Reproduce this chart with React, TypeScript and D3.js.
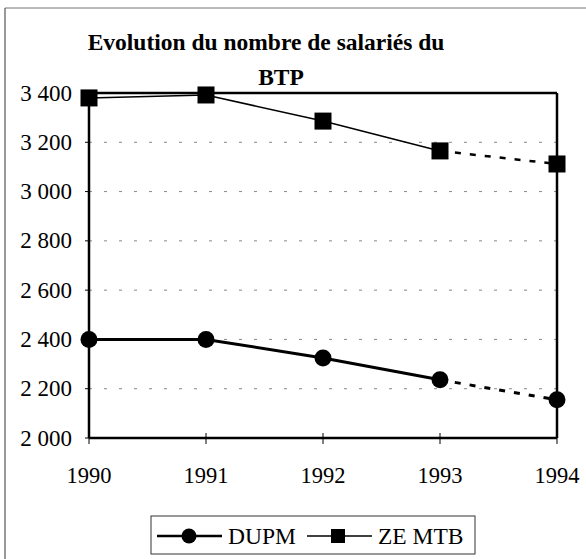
import React from "react";
import * as d3 from "d3";

const years = [1990, 1991, 1992, 1993, 1994];
const dupm = [2400, 2400, 2325, 2236, 2155];
const zeMtb = [3380, 3392, 3286, 3165, 3112];
const yTicks = [2000, 2200, 2400, 2600, 2800, 3000, 3200, 3400];
const titleLines = ["Evolution du nombre de salariés du", "BTP"];
const seriesNames = ["DUPM", "ZE MTB"];

const W = 586;
const H = 559;
const FONT = "Liberation Serif";

const fmt = (v: number) => {
  const s = String(v);
  return s.length > 3 ? s.slice(0, s.length - 3) + "\u00a0" + s.slice(-3) : s;
};

type TProps = { x: number; y: number; size: number; anchor?: string; bold?: boolean; children: React.ReactNode };
function T({ x, y, size, anchor = "start", bold = false, children }: TProps) {
  return (
    <text
      x={x}
      y={y}
      textAnchor={anchor}
      fontFamily={FONT}
      fontSize={size}
      fontWeight={bold ? "bold" : "normal"}
      fill="#000"
      style={{ fontFamily: `"${FONT}"` }}
    >
      {children}
    </text>
  );
}

export default function App() {
  const x = d3.scaleLinear().domain([1990, 1994]).range([89, 557]);
  const y = d3.scaleLinear().domain([2000, 3400]).range([438, 93]);
  const line = d3.line<[number, number]>().x((d) => x(d[0])).y((d) => y(d[1]));

  const solidPart = (vals: number[]) =>
    line(years.slice(0, 4).map((yr, i) => [yr, vals[i]] as [number, number])) || "";
  const dashPart = (vals: number[]) =>
    line(years.slice(3).map((yr, i) => [yr, vals[i + 3]] as [number, number])) || "";

  const x0 = x(1990), x1 = x(1994), yTop = y(3400), yBot = y(2000);

  return (
    <svg width={W} height={H} style={{ position: "absolute", left: 0, top: 0, fontFamily: `"${FONT}"` }}>
      <rect x={0} y={0} width={W} height={H} fill="#fff" />
      {/* outer frame */}
      <line x1={5} y1={8} x2={W} y2={8} stroke="#777" strokeWidth={1} />
      <line x1={5} y1={8} x2={5} y2={H} stroke="#555" strokeWidth={1.2} />

      {/* title */}
      <T x={266} y={50} size={23.5} anchor="middle" bold>{titleLines[0]}</T>
      <T x={281} y={85} size={23.5} anchor="middle" bold>{titleLines[1]}</T>

      {/* gridlines */}
      {yTicks.filter((t) => t > 2000 && t < 3400).map((t) => (
        <line key={"g" + t} x1={x0} x2={x1} y1={y(t)} y2={y(t)} stroke="#888" strokeWidth={1} strokeDasharray="3,12" />
      ))}

      {/* plot frame */}
      <line x1={x0} x2={x1} y1={yTop} y2={yTop} stroke="#000" strokeWidth={2.5} />
      <line x1={x1} x2={x1} y1={yTop} y2={yBot} stroke="#000" strokeWidth={2.5} />
      <line x1={x0} x2={x1} y1={yBot} y2={yBot} stroke="#000" strokeWidth={2.5} />
      <line x1={x0} x2={x0} y1={yTop} y2={yBot} stroke="#000" strokeWidth={2.5} />

      {/* y ticks & labels */}
      {yTicks.map((t) => (
        <g key={"y" + t}>
          <line x1={x0 - 4} x2={x0} y1={y(t)} y2={y(t)} stroke="#000" strokeWidth={1} />
          <T x={72} y={y(t) + 7.5} size={23} anchor="end">{fmt(t)}</T>
        </g>
      ))}

      {/* x ticks & labels */}
      {years.map((yr) => (
        <g key={"x" + yr}>
          <line x1={x(yr)} x2={x(yr)} y1={yBot - 5} y2={yBot + 6} stroke="#000" strokeWidth={1} />
          <T x={x(yr)} y={483} size={22.5} anchor="middle">{yr}</T>
        </g>
      ))}

      {/* ZE MTB series */}
      <path d={solidPart(zeMtb)} fill="none" stroke="#000" strokeWidth={1.5} />
      <path d={dashPart(zeMtb)} fill="none" stroke="#000" strokeWidth={2.5} strokeDasharray="6,9" />
      {years.map((yr, i) => (
        <rect key={"s" + yr} x={x(yr) - 8.5} y={y(zeMtb[i]) - 8.5} width={17} height={17} fill="#000" />
      ))}

      {/* DUPM series */}
      <path d={solidPart(dupm)} fill="none" stroke="#000" strokeWidth={3} />
      <path d={dashPart(dupm)} fill="none" stroke="#000" strokeWidth={3} strokeDasharray="6,9" />
      {years.map((yr, i) => (
        <circle key={"c" + yr} cx={x(yr)} cy={y(dupm[i])} r={8.5} fill="#000" />
      ))}

      {/* legend */}
      <rect x={151} y={516} width={324} height={38} fill="#fff" stroke="#333" strokeWidth={1} />
      <line x1={157} x2={222} y1={536} y2={536} stroke="#000" strokeWidth={2.5} />
      <circle cx={189} cy={536} r={7.5} fill="#000" />
      <T x={228} y={544} size={23.5}>{seriesNames[0]}</T>
      <line x1={307} x2={372} y1={536} y2={536} stroke="#000" strokeWidth={1.5} />
      <rect x={331} y={529} width={14} height={14} fill="#000" />
      <T x={378} y={544} size={23.5}>{seriesNames[1]}</T>
    </svg>
  );
}
